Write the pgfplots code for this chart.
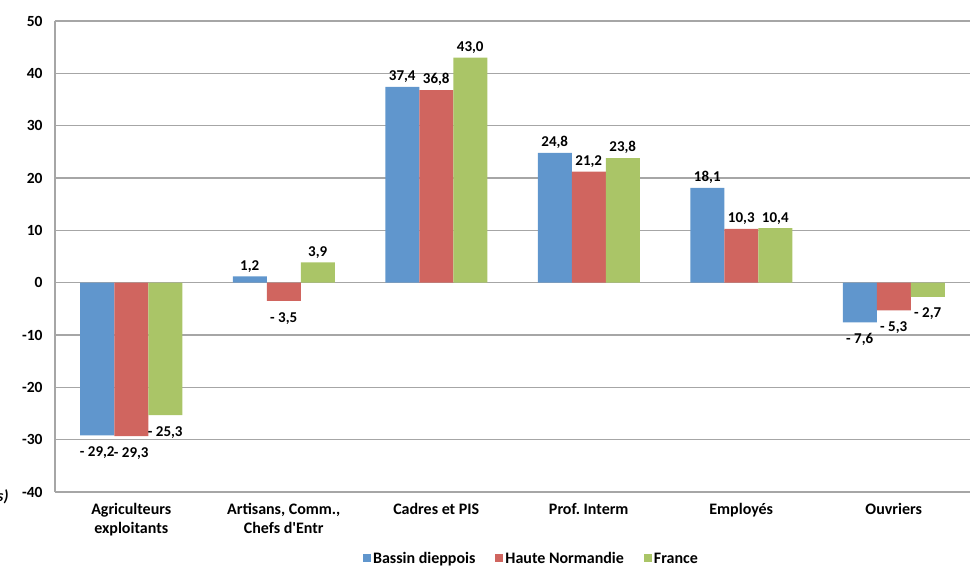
\documentclass[border=0pt]{standalone}
\usepackage{pgfplots}
\pgfplotsset{compat=1.18}
\usepackage{fontspec}
\setmainfont{Carlito}[Ligatures=TeXOff]
\definecolor{cblue}{HTML}{6096CD}
\definecolor{cred}{HTML}{D0655F}
\definecolor{cgreen}{HTML}{AAC567}
\definecolor{cgrid}{HTML}{A6A6A6}
\begin{document}
\begin{tikzpicture}
\begin{axis}[name=ax,
  at={(0,0)}, anchor=south west,
  scale only axis, width=915pt, height=471pt,
  xmin=-0.5, xmax=5.5, ymin=-40, ymax=50,
  ybar=0pt, bar width=34pt,
  axis x line*=bottom, axis y line*=left,
  axis line style={cgrid, line width=1.3pt},
  ymajorgrids, grid style={cgrid, line width=1.3pt},
  major tick length=0pt,
  ytick={-40,-30,...,50},
  xtick={0,1,2,3,4,5},
  xticklabels={{Agriculteurs\\exploitants},{Artisans, Comm.,\\Chefs d'Entr},{Cadres et PIS},{Prof.\ Interm},{Employés},{Ouvriers}},
  xticklabel style={align=center, font=\fontsize{16}{19}\selectfont\bfseries, yshift=-8pt},
  yticklabel style={font=\fontsize{15.5}{17}\selectfont\bfseries, xshift=-9pt},
  /pgf/number format/assume math mode=true,
  point meta=explicit symbolic,
  visualization depends on={y \as \rawy},
  nodes near coords,
  every node near coord/.append style={font=\fontsize{15}{17}\selectfont\bfseries, inner sep=4pt},
  every node near coord/.append code={\pgfmathparse{\rawy<0}\ifnum\pgfmathresult=1\relax\pgfkeysalso{anchor=north,yshift=-7pt}\else\pgfkeysalso{anchor=south}\fi},
  legend columns=3,
  legend style={at={(0.5207,0)}, anchor=center, yshift=-67pt, draw=none,
    font=\fontsize{16}{18}\selectfont\bfseries,
    /tikz/every even column/.append style={column sep=18pt}},
  legend image code/.code={\fill[#1] (0pt,-3pt) rectangle (8pt,5pt);},
]
\addplot[fill=cblue, draw=none] coordinates {(0,-29.2) [- 29,2] (1,1.2) [1,2] (2,37.4) [37,4] (3,24.8) [24,8] (4,18.1) [18,1] (5,-7.6) [- 7,6]};
\addplot[fill=cred, draw=none] coordinates {(0,-29.3) [- 29,3] (1,-3.5) [- 3,5] (2,36.8) [36,8] (3,21.2) [21,2] (4,10.3) [10,3] (5,-5.3) [- 5,3]};
\addplot[fill=cgreen, draw=none] coordinates {(0,-25.3) [- 25,3] (1,3.9) [3,9] (2,43.0) [43,0] (3,23.8) [23,8] (4,10.4) [10,4] (5,-2.7) [- 2,7]};
\legend{Bassin dieppois,Haute Normandie\hspace{20pt},France}
\end{axis}
\node[anchor=west, inner sep=0pt, font=\fontsize{16}{18}\selectfont\bfseries\itshape] at ([xshift=-58pt,yshift=-5pt]ax.south west) {s)};
\pgfresetboundingbox
\path[use as bounding box] (ax.south west) ++(-55pt,-78pt) rectangle ++(976pt,570pt);
\end{tikzpicture}
\end{document}
